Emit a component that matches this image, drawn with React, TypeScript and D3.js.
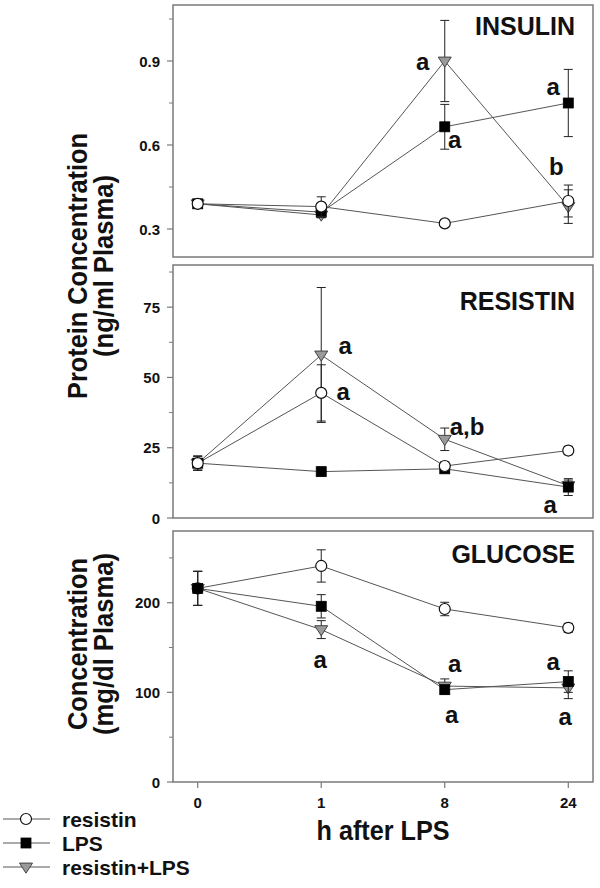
import React from "react";
import * as d3 from "d3";

// ---------- data ----------
const times = ["0", "1", "8", "24"];
const seriesNames = ["resistin", "LPS", "resistin+LPS"];

// INSULIN (ng/ml)
const insulinResistin = [0.39, 0.38, 0.32, 0.40];
const insulinResistinErr = [0.01, 0.035, 0.01, 0.057];
const insulinLPS = [0.39, 0.36, 0.665, 0.75];
const insulinLPSErr = [0.01, 0.01, 0.08, 0.12];
const insulinBoth = [0.39, 0.35, 0.9, 0.38];
const insulinBothErr = [0.01, 0.01, 0.145, 0.06];
const insulinTicks = [0.3, 0.6, 0.9];
const insulinMinor = [0.45, 0.75, 1.05];

// RESISTIN (ng/ml)
const resistinResistin = [19.5, 44.5, 18.5, 24];
const resistinResistinErr = [2.5, 10, 1.5, 1.5];
const resistinLPS = [19.5, 16.5, 17.5, 11];
const resistinLPSErr = [2.5, 0.8, 0.8, 3];
const resistinBoth = [19.5, 58, 28, 11.5];
const resistinBothErr = [2.5, 24, 4, 2];
const resistinTicks = [0, 25, 50, 75];
const resistinMinor = [12.5, 37.5, 62.5, 87.5];

// GLUCOSE (mg/dl)
const glucoseResistin = [216, 241, 193, 172];
const glucoseResistinErr = [19, 18, 7.5, 5];
const glucoseLPS = [216, 196, 103, 112];
const glucoseLPSErr = [19, 13, 5, 12];
const glucoseBoth = [216, 170, 107, 105];
const glucoseBothErr = [19, 10, 8, 12];
const glucoseTicks = [0, 100, 200];
const glucoseMinor = [50, 150, 250];

// significance letters: [text, time, value, dx, anchor]
const insulinLetters: [string, string, number, number, string][] = [
  ["a", "8", 0.868, -22, "middle"],
  ["a", "8", 0.589, 10, "middle"],
  ["a", "24", 0.779, -15, "middle"],
  ["b", "24", 0.493, -12, "middle"],
];
const resistinLetters: [string, string, number, number, string][] = [
  ["a", "1", 58.3, 24, "middle"],
  ["a", "1", 42.0, 22, "middle"],
  ["a,b", "8", 29.5, 5, "start"],
  ["a", "24", 1.7, -18, "middle"],
];
const glucoseLetters: [string, string, number, number, string][] = [
  ["a", "1", 127.2, -1, "middle"],
  ["a", "8", 123.0, 10, "middle"],
  ["a", "24", 124.9, -15, "middle"],
  ["a", "8", 65.5, 7, "middle"],
  ["a", "24", 63.6, -3, "middle"],
];

const FONT = "'Liberation Sans', Arial, Helvetica, sans-serif";
const FRAME = "#7a7a7a";
const LINE = "#555";

type Series = { name: string; vals: number[]; errs: number[] };

function Marker({ kind, x, y }: { kind: string; x: number; y: number }) {
  if (kind === "resistin")
    return <circle cx={x} cy={y} r={5.5} fill="#fff" stroke="#111" strokeWidth={1.2} />;
  if (kind === "LPS")
    return <rect x={x - 5} y={y - 5} width={10} height={10} fill="#000" stroke="#000" strokeWidth={0.8} />;
  const s = 6.5;
  return (
    <path
      d={`M${x - s},${y - s * 0.6}L${x + s},${y - s * 0.6}L${x},${y + s * 0.95}Z`}
      fill="#9a9a9a"
      stroke="#444"
      strokeWidth={1}
    />
  );
}

function Panel(props: {
  top: number;
  bottom: number;
  domain: [number, number];
  ticks: number[];
  minor: number[];
  fmt: (v: number) => string;
  series: Series[];
  order: string[];
  title: string;
  titleY: number;
  letters: [string, string, number, number, string][];
  showX: boolean;
  x: d3.ScalePoint<string>;
  left: number;
  right: number;
}) {
  const { top, bottom, domain, ticks, minor, fmt, series, order, title, titleY, letters, showX, x, left, right } = props;
  const y = d3.scaleLinear().domain(domain).range([bottom, top]);
  const line = d3
    .line<number>()
    .x((_, i) => x(times[i]) as number)
    .y((v) => y(v));
  const ordered = order.map((n) => series.find((s) => s.name === n)!);
  return (
    <g>
      <rect x={left} y={top} width={right - left} height={bottom - top} fill="none" stroke={FRAME} strokeWidth={1.5} />
      {ticks.map((t) => (
        <g key={"t" + t}>
          <line x1={left - 6} x2={left} y1={y(t)} y2={y(t)} stroke={FRAME} strokeWidth={1.2} />
          <text
            x={left - 13}
            y={y(t) + 5.5}
            textAnchor="end"
            fontFamily={FONT}
            fontWeight="bold"
            fontSize={15}
            fill="#111"
          >
            {fmt(t)}
          </text>
        </g>
      ))}
      {minor.map((t) => (
        <line key={"m" + t} x1={left - 4} x2={left} y1={y(t)} y2={y(t)} stroke={FRAME} strokeWidth={1} />
      ))}
      {showX &&
        times.map((t) => (
          <g key={"x" + t}>
            <line x1={x(t)} x2={x(t)} y1={bottom} y2={bottom + 6} stroke={FRAME} strokeWidth={1.2} />
            <text
              x={x(t)}
              y={bottom + 26}
              textAnchor="middle"
              fontFamily={FONT}
              fontWeight="bold"
              fontSize={15}
              fill="#111"
            >
              {t}
            </text>
          </g>
        ))}
      {ordered.map((s) => (
        <path key={"l" + s.name} d={line(s.vals) || ""} fill="none" stroke={LINE} strokeWidth={1} />
      ))}
      {ordered.map((s) => (
        <g key={"s" + s.name}>
          {s.vals.map((v, i) => {
            const cx = x(times[i]) as number;
            const e = s.errs[i];
            return (
              <g key={i}>
                <line x1={cx} x2={cx} y1={y(v - e)} y2={y(v + e)} stroke="#222" strokeWidth={1} />
                <line x1={cx - 4.5} x2={cx + 4.5} y1={y(v + e)} y2={y(v + e)} stroke="#222" strokeWidth={1} />
                <line x1={cx - 4.5} x2={cx + 4.5} y1={y(v - e)} y2={y(v - e)} stroke="#222" strokeWidth={1} />
                <Marker kind={s.name} x={cx} y={y(v)} />
              </g>
            );
          })}
        </g>
      ))}
      <text x={575} y={titleY} textAnchor="end" fontFamily={FONT} fontWeight="bold" fontSize={25} fill="#111">
        {title}
      </text>
      {letters.map(([txt, t, v, dx, anchor], i) => (
        <text
          key={"a" + i}
          x={(x(t) as number) + dx}
          y={y(v)}
          textAnchor={anchor as any}
          fontFamily={FONT}
          fontWeight="bold"
          fontSize={24}
          fill="#111"
        >
          {txt}
        </text>
      ))}
    </g>
  );
}

export default function App() {
  const left = 173;
  const right = 593;
  const x = d3.scalePoint<string>().domain(times).range([left, right]).padding(0.2);

  const insulin: Series[] = [
    { name: "resistin", vals: insulinResistin, errs: insulinResistinErr },
    { name: "LPS", vals: insulinLPS, errs: insulinLPSErr },
    { name: "resistin+LPS", vals: insulinBoth, errs: insulinBothErr },
  ];
  const resistin: Series[] = [
    { name: "resistin", vals: resistinResistin, errs: resistinResistinErr },
    { name: "LPS", vals: resistinLPS, errs: resistinLPSErr },
    { name: "resistin+LPS", vals: resistinBoth, errs: resistinBothErr },
  ];
  const glucose: Series[] = [
    { name: "resistin", vals: glucoseResistin, errs: glucoseResistinErr },
    { name: "LPS", vals: glucoseLPS, errs: glucoseLPSErr },
    { name: "resistin+LPS", vals: glucoseBoth, errs: glucoseBothErr },
  ];

  const legendY = [819, 843, 867];

  return (
    <svg width={600} height={888} style={{ position: "absolute", left: 0, top: 0, background: "#fff" }}>
      <rect x={0} y={0} width={600} height={888} fill="#fff" />
      <Panel
        top={5}
        bottom={257}
        domain={[0.2, 1.1]}
        ticks={insulinTicks}
        minor={insulinMinor}
        fmt={d3.format(".1f")}
        series={insulin}
        order={["resistin+LPS", "LPS", "resistin"]}
        title="INSULIN"
        titleY={35}
        letters={insulinLetters}
        showX={false}
        x={x}
        left={left}
        right={right}
      />
      <Panel
        top={265}
        bottom={518}
        domain={[0, 90]}
        ticks={resistinTicks}
        minor={resistinMinor}
        fmt={d3.format("d")}
        series={resistin}
        order={["resistin+LPS", "LPS", "resistin"]}
        title="RESISTIN"
        titleY={310}
        letters={resistinLetters}
        showX={false}
        x={x}
        left={left}
        right={right}
      />
      <Panel
        top={531}
        bottom={782}
        domain={[0, 280]}
        ticks={glucoseTicks}
        minor={glucoseMinor}
        fmt={d3.format("d")}
        series={glucose}
        order={["resistin+LPS", "resistin", "LPS"]}
        title="GLUCOSE"
        titleY={563}
        letters={glucoseLetters}
        showX={true}
        x={x}
        left={left}
        right={right}
      />
      {/* y-axis labels */}
      <g fontFamily={FONT} fontWeight="bold" fontSize={28} fill="#111" textAnchor="middle">
        <text transform="translate(87,266) rotate(-90)" textLength={266} lengthAdjust="spacingAndGlyphs">
          Protein Concentration
        </text>
        <text transform="translate(113,266) rotate(-90)" textLength={182} lengthAdjust="spacingAndGlyphs">
          (ng/ml Plasma)
        </text>
        <text transform="translate(87,644) rotate(-90)" textLength={172} lengthAdjust="spacingAndGlyphs">
          Concentration
        </text>
        <text transform="translate(113,644) rotate(-90)" textLength={182} lengthAdjust="spacingAndGlyphs">
          (mg/dl Plasma)
        </text>
      </g>
      {/* x-axis label */}
      <text
        x={383}
        y={840}
        textAnchor="middle"
        fontFamily={FONT}
        fontWeight="bold"
        fontSize={27}
        fill="#111"
        textLength={133}
        lengthAdjust="spacingAndGlyphs"
      >
        h after LPS
      </text>
      {/* legend */}
      {seriesNames.map((n, i) => (
        <g key={"lg" + n}>
          <line x1={3} x2={50} y1={legendY[i]} y2={legendY[i]} stroke={LINE} strokeWidth={1} />
          <Marker kind={n} x={26} y={legendY[i]} />
          <text x={62} y={legendY[i] + 8} fontFamily={FONT} fontWeight="bold" fontSize={21} fill="#111">
            {n}
          </text>
        </g>
      ))}
    </svg>
  );
}
